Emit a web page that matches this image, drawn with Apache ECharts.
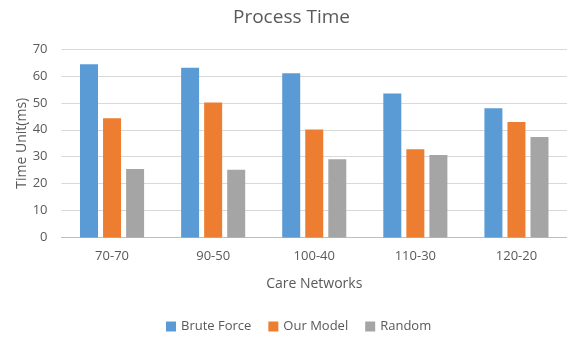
<!DOCTYPE html>
<html><head><meta charset="utf-8">
<script src="https://cdn.jsdelivr.net/npm/echarts@6/dist/echarts.min.js"></script>
<style>html,body{margin:0;padding:0;background:#fff}#c{width:567px;height:341px}</style>
</head><body><div id="c"></div>
<script>
const categories = ['70-70','90-50','100-40','110-30','120-20'];
const bruteForce = [64.3, 63.0, 61.0, 53.5, 48.0];
const ourModel = [44.3, 50.1, 40.1, 32.8, 42.9];
const randomVals = [25.4, 25.2, 29.1, 30.6, 37.3];
const yTicks = {min: 0, max: 70, interval: 10};

const font = '"Open Sans", "Noto Sans", sans-serif';
const txt = '#595959';
const chart = echarts.init(document.getElementById('c'));
chart.setOption({
  animation: false,
  textStyle: {fontFamily: font},
  title: {text: 'Process Time', left: 228, top: 3,
    textStyle: {fontFamily: font, fontSize: 19, fontWeight: 'normal', color: txt}},
  legend: {bottom: 3, left: 161, itemWidth: 10, itemHeight: 10, itemGap: 17,
    icon: 'rect', textStyle: {fontFamily: font, fontSize: 13, color: txt},
    data: ['Brute Force','Our Model','Random']},
  grid: {left: 61.5, right: -6, top: 49, bottom: 341 - 237.5},
  xAxis: {type: 'category', data: categories,
    name: 'Care Networks', nameLocation: 'middle', nameGap: 40,
    nameTextStyle: {fontFamily: font, fontSize: 14, color: txt},
    axisLine: {lineStyle: {color: '#BFBFBF', width: 1}},
    axisTick: {show: false},
    axisLabel: {color: txt, fontSize: 13, margin: 12, fontFamily: font}},
  yAxis: {type: 'value', min: yTicks.min, max: yTicks.max, interval: yTicks.interval,
    name: 'Time Unit(ms)', nameLocation: 'middle', nameGap: 32, nameMoveOverlap: false,
    nameTextStyle: {fontFamily: font, fontSize: 14, color: txt},
    axisLine: {show: false}, axisTick: {show: false},
    axisLabel: {color: txt, fontSize: 13, margin: 14, fontFamily: font},
    splitLine: {lineStyle: {color: '#D9D9D9', width: 1}}},
  series: [
    {name: 'Brute Force', type: 'bar', data: bruteForce, barWidth: 18, barGap: '28%',
      itemStyle: {color: '#5B9BD5'}},
    {name: 'Our Model', type: 'bar', data: ourModel, barWidth: 18, barGap: '28%',
      itemStyle: {color: '#ED7D31'}},
    {name: 'Random', type: 'bar', data: randomVals, barWidth: 18, barGap: '28%',
      itemStyle: {color: '#A5A5A5'}}
  ]
});
</script></body></html>
